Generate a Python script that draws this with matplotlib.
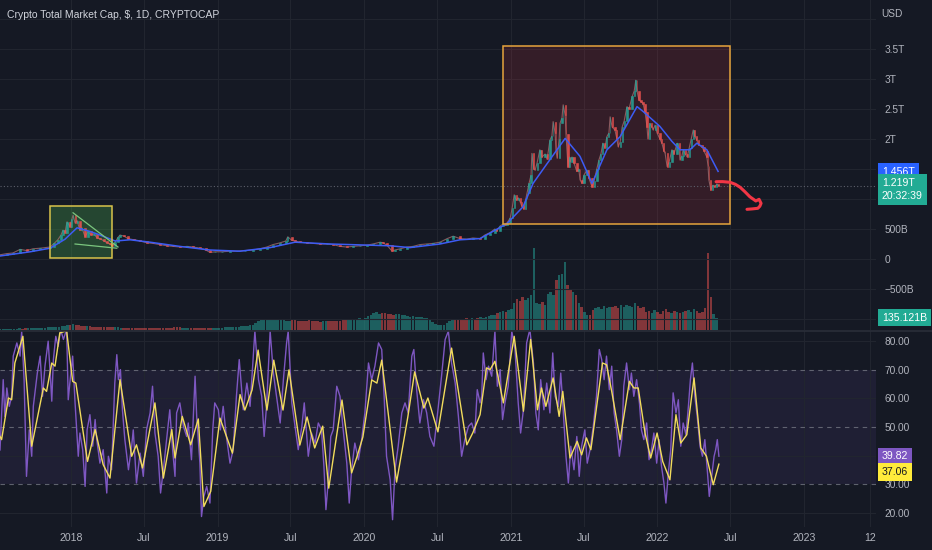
import matplotlib
matplotlib.use("Agg")
import matplotlib.pyplot as plt
import numpy as np
import pandas as pd
from matplotlib.patches import Rectangle

plt.rcParams['font.family'] = ['Liberation Sans', 'DejaVu Sans']

# ---------------- data ----------------
START = pd.Timestamp('2017-07-08')          # day 0 of the series (days counted from here)

# price (total market cap, trillions USD): day index, close
price_day = [0, 17, 32, 50, 67, 82, 100, 112, 125, 135, 144, 152, 157, 162, 167, 174, 179, 182, 187, 192,
             199, 204, 212, 219, 227, 234, 242, 249, 259, 267, 274, 279, 287, 294, 299, 309, 319, 334, 349, 366,
             381, 399, 416, 431, 448, 466, 481, 498, 513, 523, 536, 553, 573, 590, 610, 630, 648, 665, 680, 698,
             712, 717, 727, 735, 747, 765, 780, 797, 815, 830, 847, 864, 879, 897, 914, 929, 947, 954, 964, 977,
             984, 997, 1014, 1029, 1046, 1064, 1079, 1096, 1114, 1129, 1146, 1163, 1178, 1196, 1208, 1221, 1233, 1238, 1246, 1253,
             1258, 1263, 1271, 1276, 1281, 1286, 1291, 1296, 1300, 1305, 1310, 1313, 1318, 1323, 1325, 1330, 1333, 1338, 1345, 1350,
             1358, 1363, 1370, 1375, 1378, 1383, 1385, 1388, 1393, 1395, 1400, 1403, 1408, 1410, 1415, 1418, 1420, 1425, 1430, 1437,
             1442, 1445, 1450, 1455, 1462, 1467, 1475, 1480, 1487, 1492, 1497, 1502, 1507, 1512, 1517, 1520, 1525, 1532, 1537, 1540,
             1545, 1550, 1555, 1562, 1567, 1575, 1580, 1584, 1587, 1592, 1597, 1602, 1607, 1612, 1614, 1619, 1624, 1627, 1632, 1637,
             1644, 1649, 1654, 1657, 1662, 1667, 1674, 1679, 1687, 1692, 1694, 1699, 1702, 1707, 1712, 1717, 1722, 1727, 1731, 1736,
             1741, 1749, 1754, 1761, 1764, 1766, 1771, 1776, 1781, 1786, 1791]
price_close = [0.07, 0.09, 0.10, 0.16, 0.14, 0.17, 0.18, 0.19, 0.20, 0.26, 0.32, 0.40, 0.48, 0.44, 0.62, 0.54, 0.66, 0.73, 0.60, 0.64,
               0.48, 0.52, 0.37, 0.46, 0.40, 0.42, 0.35, 0.34, 0.30, 0.27, 0.25, 0.22, 0.28, 0.36, 0.40, 0.38, 0.34, 0.32, 0.30, 0.27,
               0.26, 0.24, 0.22, 0.21, 0.20, 0.21, 0.20, 0.18, 0.15, 0.11, 0.12, 0.12, 0.13, 0.13, 0.14, 0.15, 0.17, 0.20, 0.24, 0.27,
               0.30, 0.37, 0.31, 0.30, 0.28, 0.27, 0.26, 0.25, 0.25, 0.24, 0.21, 0.20, 0.21, 0.22, 0.23, 0.25, 0.28, 0.27, 0.23, 0.13,
               0.15, 0.17, 0.20, 0.21, 0.24, 0.25, 0.26, 0.28, 0.34, 0.38, 0.34, 0.33, 0.35, 0.34, 0.40, 0.44, 0.50, 0.47, 0.55, 0.58,
               0.56, 0.60, 0.68, 0.85, 1.07, 0.98, 1.02, 0.95, 0.88, 0.84, 1.00, 1.10, 1.26, 1.40, 1.76, 1.50, 1.48, 1.60, 1.82, 1.70,
               1.75, 1.66, 1.98, 2.05, 2.29, 2.10, 1.82, 1.68, 2.00, 2.26, 2.35, 2.57, 2.40, 2.09, 1.54, 1.70, 1.62, 1.70, 1.60, 1.46,
               1.50, 1.32, 1.26, 1.40, 1.48, 1.35, 1.20, 1.30, 1.50, 1.65, 1.75, 1.93, 1.85, 2.04, 2.10, 2.37, 2.20, 2.15, 2.00, 1.87,
               1.95, 2.20, 2.30, 2.54, 2.50, 2.71, 2.80, 2.98, 2.80, 2.65, 2.62, 2.59, 2.45, 2.20, 2.00, 2.26, 2.20, 2.15, 2.23, 2.10,
               2.00, 1.93, 1.80, 1.76, 1.54, 1.62, 1.82, 1.75, 1.93, 1.85, 1.65, 1.72, 1.82, 1.75, 1.70, 1.85, 2.00, 2.15, 2.05, 1.98,
               1.90, 1.87, 1.80, 1.70, 1.55, 1.32, 1.15, 1.23, 1.20, 1.25, 1.219]

# blue moving average of price
ma_day = [0, 75, 125, 162, 192, 224, 249, 287, 324, 374, 448, 523, 598, 673, 735, 822, 922, 972, 1021, 1096,
          1146, 1196, 1263, 1303, 1328, 1363, 1408, 1445, 1475, 1512, 1545, 1587, 1602, 1644, 1674, 1694, 1719, 1736, 1761, 1789]
ma_value = [0.05, 0.12, 0.18, 0.33, 0.52, 0.46, 0.40, 0.30, 0.32, 0.28, 0.21, 0.15, 0.13, 0.19, 0.28, 0.25, 0.23, 0.22, 0.19, 0.25,
            0.32, 0.34, 0.59, 0.87, 1.26, 1.59, 2.01, 1.71, 1.26, 1.82, 2.04, 2.54, 2.46, 2.21, 1.96, 1.82, 1.82, 1.93, 1.82, 1.46]

# weekly volume (billions USD), one value per week from START
volume = [12, 13, 14, 12, 15, 16, 14, 17, 16, 18, 19, 17, 20, 22, 19, 24, 26, 29, 28, 32, 34, 38, 42, 46, 52,
          56, 62, 54, 50, 46, 42, 40, 44, 38, 36, 34,
          32, 34, 36, 31, 29, 30, 28, 26, 27, 25, 24, 26, 23, 22, 24, 25, 23, 22, 21, 24,
          23, 22, 26, 24, 22, 21, 29, 32, 28, 24, 23, 22, 21, 22, 24, 23, 22, 21, 23, 24,
          25, 26, 24, 25, 28, 30, 32, 34, 36, 38, 40, 42, 46, 52, 60,
          80, 95, 105, 115, 110, 120, 125, 118, 110, 115, 108, 104, 100, 105, 110, 102, 98, 95, 100, 105,
          100, 104, 96, 92, 98, 102, 96, 94, 98, 104, 100, 106, 110, 115, 120, 118, 122, 128, 125, 135,
          150, 170, 185, 195, 180,
          185, 190, 180, 175, 170, 180, 175, 165, 160, 150, 145, 150, 140, 145, 140, 135, 130, 110, 90, 70,
          60, 55, 60, 80, 100,
          110, 115, 120, 110, 125, 130, 120, 135, 125, 130, 140, 135, 145, 150, 160, 170,
          190, 200, 210, 200, 220, 230,
          300, 340, 320, 360, 330, 350, 380, 900, 300, 290, 310, 280, 400, 420, 380, 550, 600, 620, 750,
          500, 450, 420, 380, 300, 250, 200, 170, 160,
          220, 240, 250, 230, 260, 240, 250,
          250, 260, 240, 280, 250, 270, 260, 250, 300, 260, 240, 250,
          200, 210, 190, 220, 200, 180, 210, 230, 200, 190, 210, 200,
          190, 200, 210, 220, 200, 230, 210, 190, 200, 240, 850, 360, 180, 135.121]

# RSI (purple) and its moving average (yellow)
rsi_day = [0, 8, 12, 17, 23, 29, 33, 42, 50, 54, 60, 66, 73, 79, 83, 93, 100, 106, 112, 120,
           125, 129, 133, 139, 145, 151, 158, 166, 170, 174, 181, 187, 195, 199, 206, 212, 217, 224, 231, 237,
           241, 249, 257, 266, 270, 278, 286, 291, 295, 300, 305, 311, 320, 328, 332, 340, 349, 357, 365, 374,
           380, 386, 394, 400, 407, 415, 423, 430, 436, 440, 448, 457, 465, 469, 477, 486, 490, 498, 502, 508,
           515, 523, 530, 535, 544, 549, 556, 564, 573, 581, 589, 596, 606, 615, 623, 631, 635, 644, 652, 658,
           664, 673, 681, 689, 698, 706, 714, 718, 727, 735, 743, 752, 758, 768, 776, 785, 793, 801, 807, 812,
           818, 824, 830, 839, 847, 855, 864, 870, 876, 884, 893, 901, 909, 918, 926, 934, 943, 951, 957, 963,
           972, 978, 984, 992, 1001, 1009, 1017, 1026, 1031, 1038, 1046, 1055, 1063, 1071, 1081, 1092, 1100, 1109, 1117, 1125,
           1134, 1142, 1150, 1158, 1167, 1175, 1183, 1189, 1196, 1200, 1204, 1211, 1217, 1225, 1233, 1239, 1246, 1252, 1258, 1266,
           1275, 1283, 1291, 1297, 1304, 1312, 1320, 1329, 1335, 1341, 1347, 1355, 1362, 1370, 1377, 1383, 1391, 1397, 1403, 1410,
           1416, 1422, 1430, 1437, 1443, 1449, 1457, 1463, 1470, 1478, 1486, 1493, 1499, 1505, 1511, 1518, 1524, 1530, 1536, 1543,
           1549, 1554, 1561, 1568, 1573, 1579, 1586, 1593, 1598, 1604, 1611, 1617, 1623, 1629, 1636, 1642, 1648, 1654, 1659, 1665,
           1671, 1677, 1684, 1690, 1696, 1702, 1709, 1715, 1720, 1725, 1731, 1737, 1744, 1750, 1756, 1762, 1767, 1773, 1779, 1783,
           1787, 1791]
rsi_value = [42, 66.5, 53.7, 63.6, 57.2, 60.7, 74.7, 79.3, 74.7, 83.4, 66.5, 32.8, 49, 39.8, 57.2, 68.8, 74.7, 60.7, 71.2, 79.9,
             68.8, 59, 73.5, 81.6, 78.1, 84, 80.5, 84, 59.5, 65.3, 74.7, 58.4, 39.8, 47.9, 42.1, 29.3, 49, 54.3, 43.3, 52.6,
             45.6, 37.4, 42.1, 27, 39.8, 35.1, 65.3, 75.2, 66.5, 70, 56, 45.6, 35.1, 43.3, 49, 30.5, 40.9, 32.8, 49, 54.9,
             64.2, 47.9, 39.8, 27, 35.1, 45.6, 56, 42.1, 32.8, 54.9, 58.4, 50.2, 46.7, 51.4, 38.6, 67.7, 53.7, 37.4, 18.8, 25.8,
             29.3, 23.5, 49, 58.4, 56, 49, 57.2, 46.7, 37.4, 42.1, 60.7, 73.5, 56, 65.3, 57.2, 74.7, 83.4, 66.5, 60.7, 46.7,
             57.2, 83.4, 68.8, 60.7, 51.4, 66.5, 79.3, 83.4, 58.4, 50.2, 42.1, 50.2, 58.4, 39.8, 47.9, 44.4, 51.4, 49, 36.3, 21.2,
             31.6, 46.7, 49, 64.2, 60.7, 49, 37.4, 23.5, 35.1, 44.4, 38.6, 45.6, 54.9, 72.3, 66.5, 71.2, 79.3, 77, 60.7, 39.8,
             31.6, 17.7, 35.1, 43.3, 54.9, 58.4, 54.9, 74.7, 77, 63, 51.4, 59.5, 54.9, 46.7, 43.3, 57.2, 67.7, 80.5, 83.4, 72.3,
             65.3, 53.7, 39.8, 45.6, 50.2, 51.4, 47.9, 63, 58.4, 60.7, 75.8, 66.5, 71.2, 67.7, 83.4, 64.2, 70, 52.6, 58.4, 64.2,
             83.4, 77, 58.4, 47.9, 56, 79.3, 84, 72.3, 54.9, 49, 66.5, 56, 65.3, 54.9, 75.8, 60.7, 57.2, 68.8, 56, 39.8,
             30.5, 43.3, 35.1, 46.7, 32.8, 43.3, 49, 37.4, 42.1, 50.2, 60.7, 77, 73.5, 66.5, 74.7, 63, 71.2, 54.9, 49, 39.8,
             45.6, 64.2, 72.3, 63, 68.8, 60.7, 66.5, 58.4, 49, 45.6, 51.4, 38.6, 42.1, 47.9, 37.4, 45.6, 36.3, 30.5, 23.5, 34,
             42.1, 61.9, 54.9, 59.5, 43.3, 51.4, 47.3, 57.2, 66.5, 72.3, 60.7, 53.7, 43.3, 39.8, 45.6, 35.1, 25.8, 32.8, 39.8, 42.1,
             45.6, 39.82]

rsi_ma_day = [0, 4, 21, 29, 37, 57, 79, 108, 116, 129, 137, 149, 166, 181, 189, 218, 237, 257, 274, 299,
              328, 340, 355, 386, 407, 428, 436, 454, 475, 494, 508, 525, 548, 579, 598, 610, 628, 643, 665, 682,
              705, 720, 747, 765, 784, 804, 819, 852, 876, 889, 904, 926, 939, 951, 988, 1016, 1033, 1056, 1066, 1091,
              1125, 1163, 1178, 1196, 1212, 1221, 1233, 1254, 1281, 1304, 1322, 1339, 1349, 1360, 1378, 1393, 1402, 1420, 1438, 1449,
              1461, 1472, 1501, 1511, 1524, 1545, 1568, 1579, 1590, 1607, 1621, 1637, 1651, 1669, 1684, 1696, 1711, 1729, 1746, 1760,
              1777, 1791]
rsi_ma_value = [46.7, 45.6, 60.1, 59.5, 72.3, 81.6, 43.3, 63.6, 62.4, 72.3, 71.2, 82.8, 83.5, 65.9, 65.3, 38, 49.1, 36.9, 32.2, 66.5,
                39.8, 43.8, 35.7, 58.4, 32.2, 49.1, 39.2, 53.7, 43.8, 52.8, 22.3, 27.6, 53.1, 40.9, 61.3, 55.9, 62.9, 76.8, 55.9, 73.3,
                55.9, 69.9, 43.7, 53.5, 42.7, 50.3, 28.7, 59.4, 34, 39.5, 46.5, 66.4, 65.3, 73.3, 30.8, 53.5, 69.2, 56.6, 60.1, 48.3,
                77.5, 43.8, 48, 54.3, 70.6, 70, 72.9, 58.4, 81.6, 55.5, 80.5, 56, 63.6, 57.2, 67.1, 53.7, 62.4, 39.2, 45, 40.3,
                46.2, 42.1, 72.3, 71.7, 62.4, 45.6, 65.9, 63.6, 63.6, 47.9, 39.2, 47.9, 38, 31.6, 54.3, 44.4, 47.3, 67.1, 42.7, 39.8,
                29.9, 37.06]

tick_dates = ['2018-01-01', '2018-07-01', '2019-01-01', '2019-07-01', '2020-01-01', '2020-07-01',
              '2021-01-01', '2021-07-01', '2022-01-01', '2022-07-01', '2023-01-01', '2023-06-14']
tick_labels = ['2018', 'Jul', '2019', 'Jul', '2020', 'Jul', '2021', 'Jul', '2022', 'Jul', '2023', '12']
price_ticks = [-0.5, 0, 0.5, 2, 2.5, 3, 3.5]
price_tick_labels = ['\u2212500B', '0', '500B', '2T', '2.5T', '3T', '3.5T']
rsi_ticks = [20, 30, 50, 60, 70, 80]
rsi_tick_labels = ['20.00', '30.00', '50.00', '60.00', '70.00', '80.00']

# user drawings (data coordinates: day, trillions)
green_box = (125, 279, 0.017, 0.883)
red_box = (1253, 1819, 0.583, 3.55)
tri_top = ([182, 294], [0.77, 0.20])
tri_bottom = ([187, 291], [0.25, 0.18])
arrow_day = [1784, 1800, 1819, 1832, 1844, 1856, 1868, 1883, 1891, 1896, 1893, 1888, 1874, 1861]
arrow_val = [1.288, 1.290, 1.278, 1.245, 1.195, 1.120, 1.038, 0.967, 0.995, 0.928, 0.880, 0.845, 0.835, 0.828]

last_price = 1.219
last_ma = 1.456
last_volume = 135.121
last_rsi = 39.82
last_rsi_ma = 37.06

# ---------------- style ----------------
BG = '#151924'
GRID = '#21252f'
TXT = '#b2b5be'
UP = '#26a69a'
DN = '#ef5350'

W, H = 932, 550
fig = plt.figure(figsize=(W / 100, H / 100), dpi=100, facecolor=BG)
XMAX = 876 * 2.4913
right = 876 / W
price_rect = [0, 1 - 330 / H, right, 330 / H]
rsi_rect = [0, 1 - 527 / H, right, (527 - 331) / H]

ax_v = fig.add_axes(price_rect, facecolor=BG)
ax = fig.add_axes(price_rect, sharex=ax_v)
ax.patch.set_visible(False)
ax_r = fig.add_axes(rsi_rect, facecolor=BG, sharex=ax_v)

tick_pos = [(pd.Timestamp(d) - START).days for d in tick_dates]

for a in (ax_v, ax, ax_r):
    for s in a.spines.values():
        s.set_visible(False)
    a.set_xlim(0, XMAX)

# volume
vol_day = 7 * np.arange(len(volume))
pdays = np.array(price_day, float)
pclose = np.array(price_close, float)
p_start = np.interp(vol_day - 7, pdays, pclose)
p_end = np.interp(vol_day, pdays, pclose)
vcol = np.where(p_end >= p_start, UP, DN)
ax_v.bar(vol_day, volume, width=6.2, color=vcol, alpha=0.5, linewidth=0)
ax_v.set_ylim(0, 330 * 11)
ax_v.set_yticks([])
ax_v.tick_params(axis='x', length=0, labelbottom=False)
for t in tick_pos:
    ax_v.axvline(t, color=GRID, lw=0.8, zorder=0)

# price pane
ax.set_ylim((259 - 330) / 60, 259 / 60)
for lvl in np.arange(-1.0, 4.5, 0.5):
    ax.axhline(lvl, color=GRID, lw=0.8, zorder=0)

ax.add_patch(Rectangle((green_box[0], green_box[2]), green_box[1] - green_box[0], green_box[3] - green_box[2],
                       facecolor='#4caf50', alpha=0.30, edgecolor='none', zorder=1))
ax.add_patch(Rectangle((green_box[0], green_box[2]), green_box[1] - green_box[0], green_box[3] - green_box[2],
                       facecolor='none', edgecolor='#d9c34a', lw=1.1, zorder=5))
ax.add_patch(Rectangle((red_box[0], red_box[2]), red_box[1] - red_box[0], red_box[3] - red_box[2],
                       facecolor='#f23645', alpha=0.14, edgecolor='none', zorder=1))
ax.add_patch(Rectangle((red_box[0], red_box[2]), red_box[1] - red_box[0], red_box[3] - red_box[2],
                       facecolor='none', edgecolor='#e6a43c', lw=1.1, zorder=5))

ax.axhline(last_price, color='#5d606b', lw=0.8, ls=(0, (1, 2)), zorder=2)

opens = np.r_[pclose[0], pclose[:-1]]
gaps = np.diff(pdays, prepend=pdays[0] - 5)
widths = np.clip(gaps * 0.55, 1.6, 4.0)
ccol = np.where(pclose >= opens, UP, DN)
ax.plot(pdays, pclose, color='#a86f72', lw=0.8, alpha=0.75, zorder=2)
ax.bar(pdays, pclose - opens, bottom=opens, width=widths, color=ccol, edgecolor=ccol, linewidth=0.4,
       alpha=0.85, zorder=3)
ax.plot(ma_day, ma_value, color='#3d5cf5', lw=1.1, zorder=4)

ax.plot(tri_top[0], tri_top[1], color='#7bc67e', lw=0.9, zorder=6)
ax.plot(tri_bottom[0], tri_bottom[1], color='#7bc67e', lw=0.9, zorder=6)
ax.plot(arrow_day, arrow_val, color='#f23645', lw=2.2, solid_capstyle='round', zorder=6)

ax.yaxis.tick_right()
ax.set_yticks(price_ticks)
ax.set_yticklabels(price_tick_labels)
ax.tick_params(axis='y', length=0, pad=6, labelsize=7.3, labelcolor=TXT)
ax.tick_params(axis='x', length=0, labelbottom=False)

bkw = dict(xycoords=('axes fraction', 'data'), textcoords='offset points', ha='left',
           fontsize=7.6, annotation_clip=False)
ax.annotate('1.456T', xy=(1, last_ma), xytext=(4.3, 0), va='center', color='white',
            bbox=dict(boxstyle='square,pad=0.35', fc='#2962ff', ec='none'), **bkw)
ax.annotate('1.219T\n20:32:39', xy=(1, last_price), xytext=(4.3, 5.6), va='top', color='white',
            linespacing=1.35, bbox=dict(boxstyle='square,pad=0.4', fc='#22ab94', ec='none'), **bkw)
ax_v.annotate('135.121B', xy=(1, last_volume), xytext=(4.3, 0), va='center', color='white',
              bbox=dict(boxstyle='square,pad=0.35', fc='#22ab94', ec='none'), **bkw)

# RSI pane
ax_r.set_ylim(50 - (527 - 427) / 2.87, 50 + (427 - 331) / 2.87)
ax_r.axhspan(30, 70, color='#7e57c2', alpha=0.10, lw=0, zorder=0)
for lvl in (20, 40, 60, 80):
    ax_r.axhline(lvl, color=GRID, lw=0.8, zorder=0)
for t in tick_pos:
    ax_r.axvline(t, color=GRID, lw=0.8, zorder=0)
for lvl in (70, 50, 30):
    ax_r.axhline(lvl, color='#787b86', lw=0.8, ls=(0, (4, 4)), alpha=0.75, zorder=1)
ax_r.plot(rsi_day, rsi_value, color='#7e57c2', lw=1.0, zorder=2)
ax_r.plot(rsi_ma_day, rsi_ma_value, color='#f2dc5d', lw=1.0, zorder=3)

ax_r.yaxis.tick_right()
ax_r.set_yticks(rsi_ticks)
ax_r.set_yticklabels(rsi_tick_labels)
ax_r.tick_params(axis='y', length=0, pad=6, labelsize=7.3, labelcolor=TXT)
ax_r.set_xticks(tick_pos)
ax_r.set_xticklabels(tick_labels)
ax_r.tick_params(axis='x', length=0, pad=4, labelsize=7.6, labelcolor=TXT)

ax_r.annotate('39.82', xy=(1, last_rsi), xytext=(4.3, 0), va='center', color='white',
              bbox=dict(boxstyle='square,pad=0.35', fc='#7e57c2', ec='none'), **bkw)
ax_r.annotate('37.06', xy=(1, last_rsi_ma), xytext=(4.3, -5.8), va='center', color='#131722',
              bbox=dict(boxstyle='square,pad=0.35', fc='#ffeb3b', ec='none'), **bkw)

# pane separator and texts
fig.add_artist(plt.Line2D([0, 1], [1 - 330.5 / H, 1 - 330.5 / H], transform=fig.transFigure,
                          color='#2a2e39', lw=1.2))
fig.text(7 / W, 1 - 15 / H, 'Crypto Total Market Cap, $, 1D, CRYPTOCAP', color='#d1d4dc',
         fontsize=7.5, va='center', ha='left')
fig.text(881 / W, 1 - 14 / H, 'USD', color=TXT, fontsize=7.3, va='center', ha='left')

fig.savefig('out.png', dpi=100, facecolor=BG)
